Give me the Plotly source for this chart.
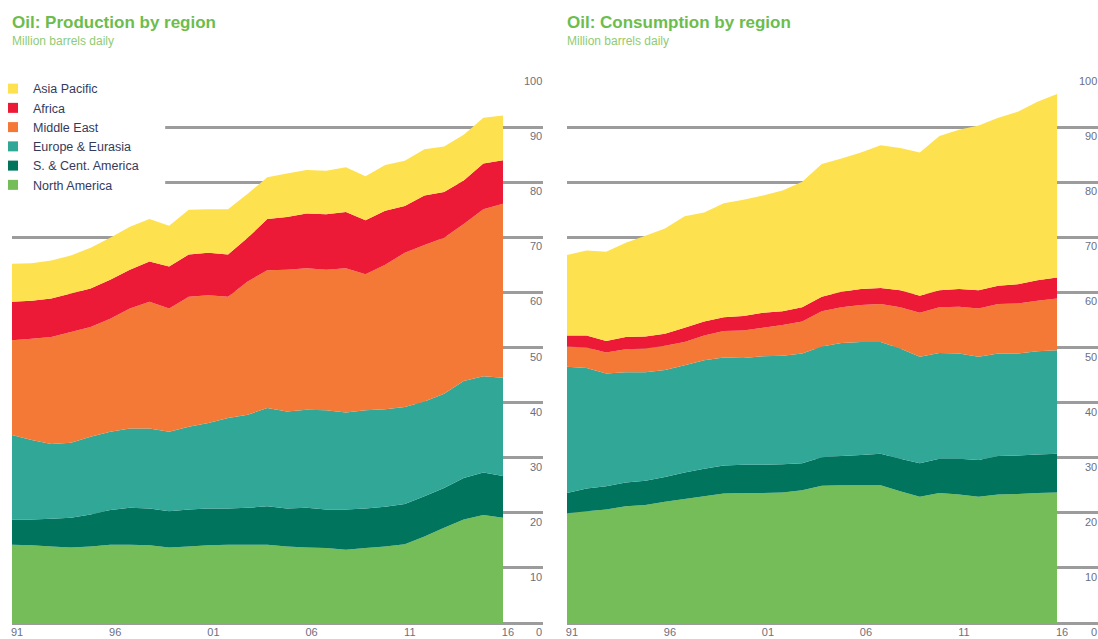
import plotly.graph_objects as go
from plotly.subplots import make_subplots

years = list(range(1991, 2017))

regions = ["North America", "S. & Cent. America", "Europe & Eurasia",
           "Middle East", "Africa", "Asia Pacific"]
colors = ["#74bd58", "#00745c", "#31a798", "#f47936", "#ec1a37", "#fee14f"]

# production, million barrels daily
prod_north_america = [14.2, 14.1, 13.9, 13.7, 13.9, 14.2, 14.2, 14.1, 13.7, 13.9, 14.1, 14.2, 14.2,
                      14.2, 13.9, 13.7, 13.6, 13.3, 13.6, 13.9, 14.3, 15.7, 17.3, 18.8, 19.6, 19.1]
prod_s_cent_america = [4.6, 4.7, 5.0, 5.4, 5.8, 6.3, 6.7, 6.7, 6.6, 6.7, 6.7, 6.6, 6.7,
                       7.0, 6.9, 7.2, 7.0, 7.3, 7.2, 7.2, 7.3, 7.3, 7.2, 7.5, 7.7, 7.6]
prod_europe_eurasia = [15.3, 14.4, 13.6, 13.6, 14.1, 14.2, 14.4, 14.5, 14.4, 15.0, 15.5, 16.4, 16.9,
                       17.8, 17.6, 17.8, 18.0, 17.6, 17.8, 17.7, 17.6, 17.2, 17.1, 17.6, 17.5, 17.8]
prod_middle_east = [17.2, 18.4, 19.4, 20.1, 19.9, 20.5, 21.8, 23.0, 22.4, 23.6, 23.2, 22.0, 24.2,
                    25.0, 25.7, 25.7, 25.5, 26.2, 24.7, 26.2, 28.0, 28.4, 28.3, 28.5, 30.3, 31.6]
prod_africa = [7.0, 6.9, 7.0, 7.0, 7.0, 7.1, 7.0, 7.3, 7.6, 7.7, 7.7, 7.7, 7.9,
               9.3, 9.6, 9.9, 10.1, 10.2, 9.8, 9.8, 8.5, 9.0, 8.3, 7.9, 8.3, 7.9]
prod_asia_pacific = [6.9, 6.8, 6.9, 6.9, 7.4, 7.6, 7.8, 7.7, 7.4, 8.1, 7.9, 8.2, 8.0,
                     7.6, 7.9, 7.9, 7.9, 8.1, 8.0, 8.3, 8.2, 8.4, 8.3, 8.3, 8.3, 8.1]

# consumption, million barrels daily
cons_north_america = [19.9, 20.3, 20.6, 21.2, 21.4, 22.0, 22.5, 23.0, 23.5, 23.6, 23.6, 23.7, 24.1,
                      24.9, 25.0, 25.0, 25.0, 23.9, 22.9, 23.6, 23.3, 22.9, 23.3, 23.4, 23.6, 23.7]
cons_s_cent_america = [3.7, 4.1, 4.2, 4.3, 4.4, 4.5, 4.8, 5.0, 5.1, 5.1, 5.1, 5.1, 4.9,
                       5.2, 5.3, 5.5, 5.7, 5.9, 6.1, 6.2, 6.5, 6.7, 7.0, 7.0, 7.0, 7.0]
cons_europe_eurasia = [22.9, 21.9, 20.5, 20.0, 19.7, 19.4, 19.5, 19.7, 19.6, 19.4, 19.7, 19.7, 19.9,
                       20.1, 20.5, 20.5, 20.3, 20.0, 19.3, 19.2, 19.1, 18.7, 18.6, 18.5, 18.7, 18.8]
cons_middle_east = [3.7, 3.7, 3.8, 4.2, 4.3, 4.4, 4.2, 4.5, 4.8, 5.0, 5.2, 5.6, 5.8,
                    6.4, 6.5, 6.7, 6.9, 7.5, 8.0, 8.3, 8.5, 8.8, 9.0, 9.1, 9.2, 9.4]
cons_africa = [2.0, 2.2, 2.1, 2.2, 2.2, 2.2, 2.6, 2.5, 2.5, 2.6, 2.7, 2.5, 2.6,
               2.6, 2.8, 2.9, 2.9, 3.1, 3.1, 3.1, 3.2, 3.3, 3.3, 3.5, 3.7, 3.8]
cons_asia_pacific = [14.6, 15.4, 16.2, 17.1, 18.3, 19.1, 20.2, 19.8, 20.7, 21.1, 21.3, 21.9, 22.8,
                     24.1, 24.2, 24.8, 25.9, 25.8, 26.0, 28.0, 28.9, 29.9, 30.5, 31.3, 32.4, 33.3]

production = [prod_north_america, prod_s_cent_america, prod_europe_eurasia,
              prod_middle_east, prod_africa, prod_asia_pacific]
consumption = [cons_north_america, cons_s_cent_america, cons_europe_eurasia,
               cons_middle_east, cons_africa, cons_asia_pacific]

year_ticks = [1991, 1996, 2001, 2006, 2011, 2016]
year_labels = ["91", "96", "01", "06", "11", "16"]
value_ticks = list(range(0, 101, 10))

font = "Liberation Sans, Arial, sans-serif"
green_title = "#6cbd4c"
tick_color = "#6c6f80"
grid_color = "#9c9c9c"

fig = make_subplots(rows=1, cols=2)

for region, color, prod, cons in zip(regions, colors, production, consumption):
    fig.add_trace(go.Scatter(x=years, y=prod, mode="none", stackgroup="prod",
                             fillcolor=color, name=region, showlegend=False,
                             hoverinfo="x+y+name"), row=1, col=1)
    fig.add_trace(go.Scatter(x=years, y=cons, mode="none", stackgroup="cons",
                             fillcolor=color, name=region, showlegend=False,
                             hoverinfo="x+y+name"), row=1, col=2)
    # legend entry with a small square swatch
    fig.add_trace(go.Scatter(x=[None], y=[None], mode="markers", name=region,
                             marker=dict(symbol="square", size=10, color=color)),
                  row=1, col=1)

x_end_left = 2018.04
x_end_right = 2018.09

fig.update_xaxes(showgrid=False, zeroline=False, showline=False, ticks="",
                 tickfont=dict(family=font, size=11, color=tick_color),
                 tickvals=year_ticks, ticktext=year_labels, fixedrange=True,
                 ticklabelshift=5, ticklabelstandoff=1, ticklabeloverflow="allow")
fig.update_layout(
    xaxis=dict(domain=[0, 0.489], range=[1991, x_end_left]),
    xaxis2=dict(domain=[0.511, 1], range=[1991, x_end_right]),
)
fig.update_yaxes(range=[0, 100], showgrid=True, gridcolor=grid_color, gridwidth=2.5,
                 zeroline=True, zerolinecolor=grid_color, zerolinewidth=2.5,
                 showticklabels=False, ticks="", tickvals=value_ticks, fixedrange=True)

annotations = []
# value labels sit just under each gridline, at the right end
for xref, x_end in [("x", x_end_left), ("x2", x_end_right)]:
    for v in value_ticks:
        annotations.append(dict(x=x_end, y=v, xref=xref, yref=xref.replace("x", "y"),
                                text=str(v), showarrow=False, xanchor="right", yanchor="top",
                                xshift=1, yshift=-1,
                                font=dict(family=font, size=11, color=tick_color)))

for x, title in [(0, "Oil: Production by region"), (0.511, "Oil: Consumption by region")]:
    annotations.append(dict(x=x, y=1.0907, xref="paper", yref="paper", text=f"<b>{title}</b>",
                            showarrow=False, xanchor="left", yanchor="middle", xshift=-2,
                            font=dict(family=font, size=17, color=green_title)))
    annotations.append(dict(x=x, y=1.0563, xref="paper", yref="paper",
                            text="Million barrels daily", showarrow=False,
                            xanchor="left", yanchor="middle", xshift=-2,
                            font=dict(family=font, size=12, color="#8fcb74")))

# white patch behind the legend hides the 90 and 80 gridlines there
fig.add_shape(type="rect", xref="x", yref="y", x0=1990.5, x1=1998.8, y0=78.6, y1=98.6,
              fillcolor="white", line_width=0, layer="above")

fig.update_layout(
    width=1098,
    height=639,
    margin=dict(l=12, r=0, t=72, b=16, autoexpand=False),
    plot_bgcolor="white",
    paper_bgcolor="white",
    font=dict(family=font),
    annotations=annotations,
    legend=dict(x=-0.0175, y=0.9964, xanchor="left", yanchor="top", traceorder="reversed",
                bgcolor="rgba(0,0,0,0)", borderwidth=0, tracegroupgap=0,
                font=dict(family=font, size=12.5, color="#353a5c")),
)

# drop the default 8px body margin so the figure fills the window exactly
fig.write_html("out.html", config={"displayModeBar": False},
               post_script="document.body.style.margin = '0';")
